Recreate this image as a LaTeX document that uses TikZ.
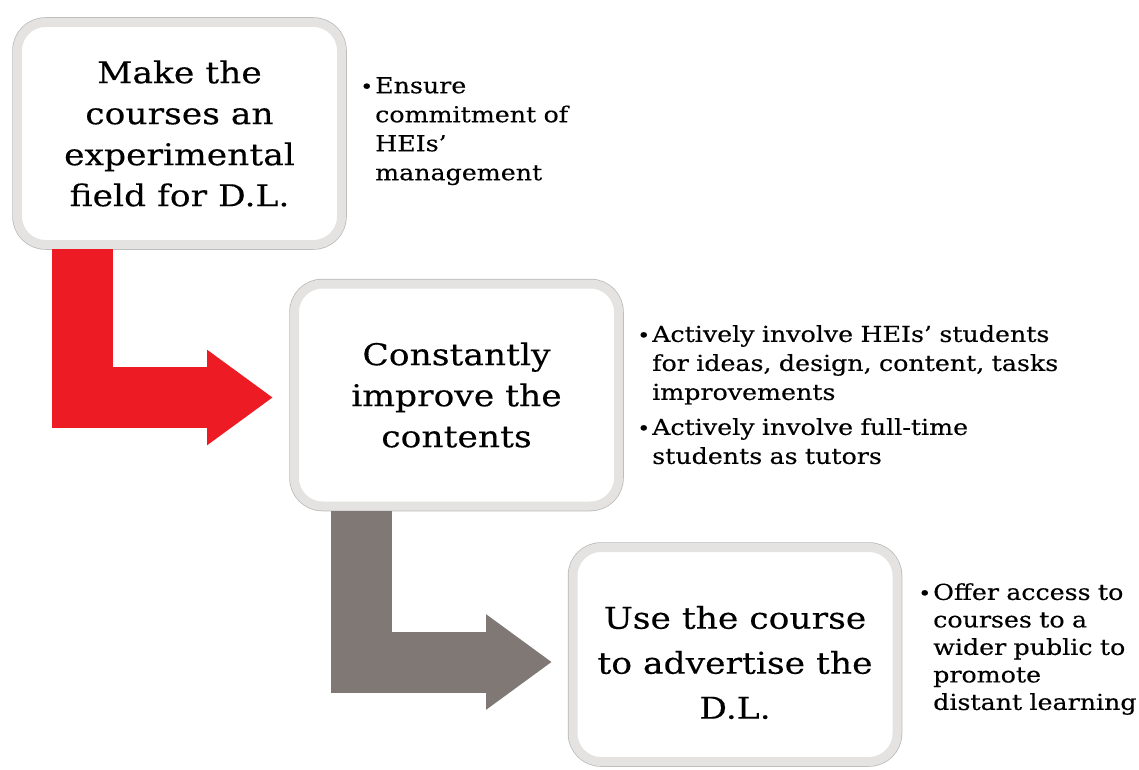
\documentclass[tikz,border=0pt]{standalone}
\usepackage{fontspec}
\setmainfont{DejaVu Serif}[FakeStretch=1.15, FakeBold=0.3]
\usetikzlibrary{arrows.meta}

\definecolor{arrowred}{RGB}{237,28,36}
\definecolor{arrowgrey}{RGB}{128,120,117}
\definecolor{rimgrey}{RGB}{228,227,226}

\newcommand{\bul}{\leavevmode\llap{\fontsize{19}{19}\selectfont\textbullet\hspace{2pt}}}

\tikzset{
    stepbox/.style={rounded corners=28pt, fill=white, draw=rimgrey, line width=9pt,
        preaction={draw=gray!55, line width=10.5pt},
        minimum width=324pt, minimum height=222pt, align=center, inner sep=0pt,
        font=\fontsize{30}{41}\selectfont},
    bendarrow/.style={line width=61pt, line join=miter,
        -{Triangle[length=66pt,width=91pt]}},
    notes/.style={anchor=north west, align=left, inner sep=0pt,
        font=\fontsize{22}{29}\selectfont}
}

\begin{document}
\begin{tikzpicture}[x=1pt, y=-1pt]
    \useasboundingbox (0,0) rectangle (1139,770);

    % the three steps
    \node[stepbox] (b1) at (179.5,133.5) {Make the\\courses an\\experimental\\field for D.L.};
    \node[stepbox] (b2) at (456.5,395) {Constantly\\improve the\\contents};
    \node[stepbox, minimum height=214pt] (b3) at (735,654.5) {};
    \node[align=center, inner sep=0pt, font=\fontsize{30}{45}\selectfont] (b3text)
        at ([yshift=-8pt]b3.center) {Use the course\\to advertise the\\D.L.};

    % bent arrows between them
    \draw[bendarrow, arrowred] ([xshift=-97pt]b1.south) |- ([xshift=-17pt,yshift=-2.5pt]b2.west);
    \draw[bendarrow, arrowgrey] ([xshift=-95.5pt]b2.south) |- ([xshift=-16.5pt,yshift=-7.5pt]b3.west);

    % notes
    \node[notes, text width=250pt] (t1) at (360,77)
        {\leftskip=15pt \bul Ensure\\commitment of\\HEIs’\\management\par};
    \node[notes, text width=480pt] (t2) at (637,325)
        {\leftskip=15pt \bul Actively involve HEIs’ students\\for ideas, design, content, tasks\\improvements\par
         \vspace{6pt}\bul Actively involve full-time\\students as tutors\par};
    \node[notes, text width=220pt, font=\fontsize{22}{27.5}\selectfont] (t3) at (917,583)
        {\leftskip=16pt \bul Offer access to\\courses to a\\wider public to\\promote\\distant learning\par};
\end{tikzpicture}
\end{document}
